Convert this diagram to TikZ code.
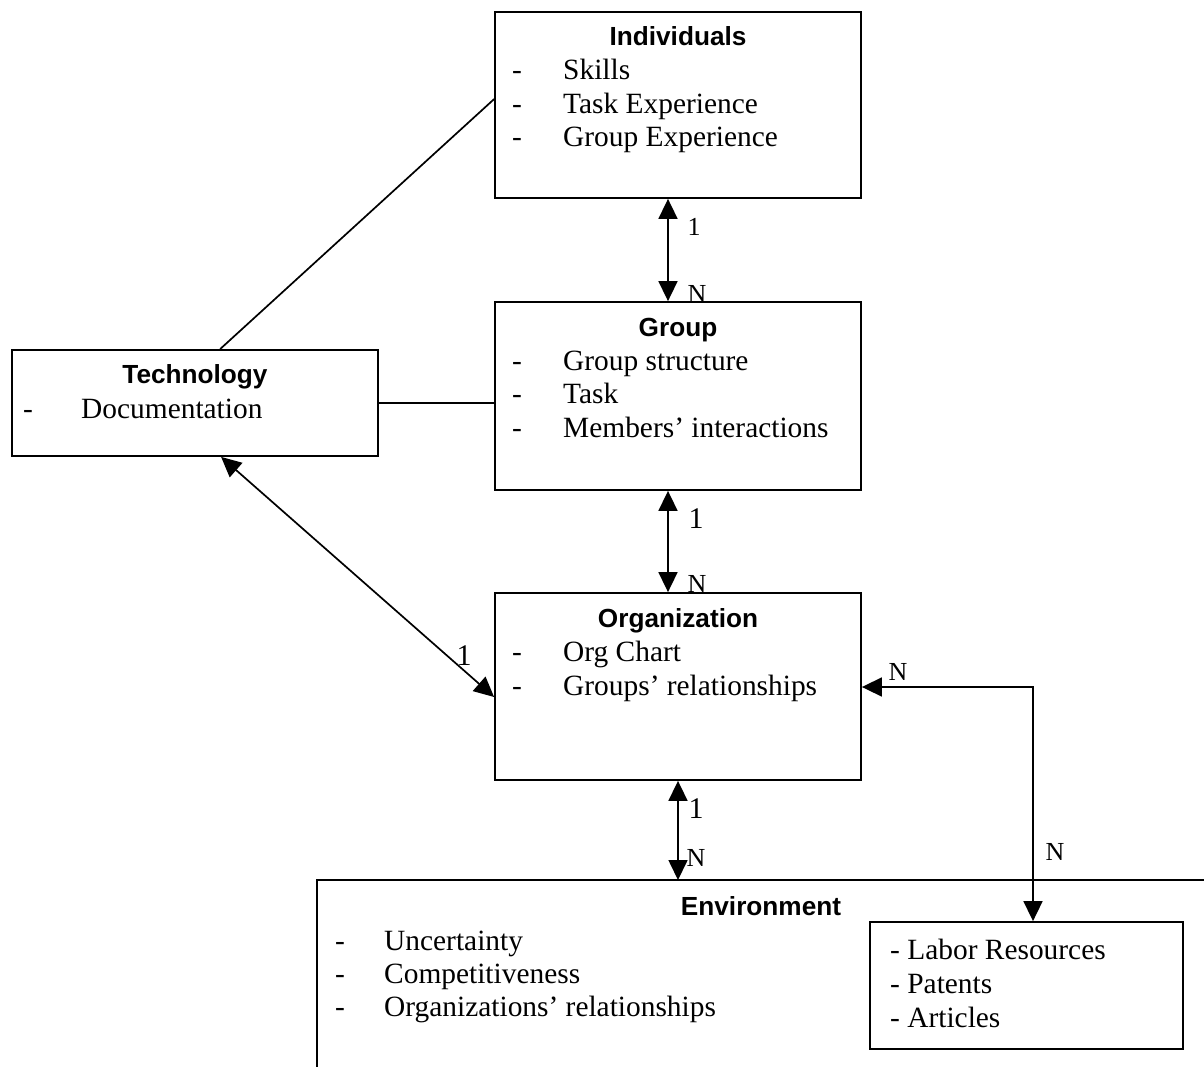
\documentclass[tikz,border=0pt]{standalone}
\usepackage{fontspec}
\setmainfont{Liberation Serif}
\newfontfamily\hdfont{Liberation Sans}
\usetikzlibrary{arrows.meta,calc}
\begin{document}
\begin{tikzpicture}[x=1pt,y=-1pt,
 box/.style={draw,line width=1.8pt,inner sep=0pt,minimum width=366pt},
 ttl/.style={anchor=base,inner sep=0pt,font=\hdfont\bfseries\fontsize{26.2}{30}\selectfont},
 itm/.style={anchor=base west,inner sep=0pt,font=\fontsize{29.4}{33}\selectfont},
 lbl/.style={inner sep=0pt,font=\fontsize{26}{28}\selectfont},
 biglbl/.style={inner sep=0pt,font=\fontsize{30}{32}\selectfont},
 con/.style={line width=1.7pt},
 arr/.style={con,{Triangle[length=20pt,width=19pt]}-{Triangle[length=20pt,width=19pt]}},
]
\useasboundingbox (0,0) rectangle (1204,1067);

% boxes
\node[box,minimum height=186pt] (ind) at (678,105) {};
\node[box,minimum height=188pt] (grp) at (678,396) {};
\node[box,minimum height=187pt] (org) at (678,686.5) {};
\node[box,minimum height=106pt] (tech) at (195,403) {};
\node[box,minimum width=313pt,minimum height=127pt] (lab) at (1026.5,985.5) {};
\coordinate (envtl) at (317,880);
\coordinate (envbl) at (317,1067);
\coordinate (envtr) at (1204,880);
\draw[line width=1.8pt] (envbl) -- (envtl) -- (envtr);

% Individuals
\node[ttl] (indt) at (678,46) {Individuals};
\node[itm] (ind1d) at (512,80) {-};
\node[itm] (ind1) at (563,80) {Skills};
\node[itm] (ind2d) at (512,113.5) {-};
\node[itm] (ind2) at (563,113.5) {Task Experience};
\node[itm] (ind3d) at (512,147) {-};
\node[itm] (ind3) at (563,147) {Group Experience};

% Group
\node[ttl] (grpt) at (678,336) {Group};
\node[itm] (grp1d) at (512,370) {-};
\node[itm] (grp1) at (563,370) {Group structure};
\node[itm] (grp2d) at (512,403.5) {-};
\node[itm] (grp2) at (563,403.5) {Task};
\node[itm] (grp3d) at (512,437) {-};
\node[itm] (grp3) at (563,437) {Members’ interactions};

% Technology
\node[ttl] (techt) at (195,383) {Technology};
\node[itm] (tech1d) at (23,418) {-};
\node[itm] (tech1) at (81,418) {Documentation};

% Organization
\node[ttl] (orgt) at (678,627) {Organization};
\node[itm] (org1d) at (512,661) {-};
\node[itm] (org1) at (563,661) {Org Chart};
\node[itm] (org2d) at (512,695) {-};
\node[itm] (org2) at (563,695) {Groups’ relationships};

% Environment
\node[ttl] (envt) at (761,915) {Environment};
\node[itm] (env1d) at (335,950) {-};
\node[itm] (env1) at (384,950) {Uncertainty};
\node[itm] (env2d) at (335,983) {-};
\node[itm] (env2) at (384,983) {Competitiveness};
\node[itm] (env3d) at (335,1016) {-};
\node[itm] (env3) at (384,1016) {Organizations’ relationships};

% Labor resources
\node[itm] (lab1) at (890,959) {- Labor Resources};
\node[itm] (lab2) at (890,993) {- Patents};
\node[itm] (lab3) at (890,1027) {- Articles};

% connectors
\draw[arr] ($(ind.south)+(-10,0)$) -- ($(grp.north)+(-10,0)$);
\draw[arr] ($(grp.south)+(-10,0)$) -- ($(org.north)+(-10,0)$);
\draw[arr] (org.south) -- (org.south |- envtl);
\draw[con] ($(tech.north west)+(209,0)$) -- ($(ind.north west)+(0,88)$);
\draw[con] (tech.east) -- (tech.east -| grp.west);
\draw[arr] ($(tech.south west)+(210,0)$) -- ($(org.west)+(0,10.5)$);
\coordinate (cr) at (1033,687);
\draw[arr] (org.east |- cr) -- (cr) -- (cr |- lab.north);

% labels
\node[lbl] (l1) at (694,227) {1};
\node[lbl] (n1) at (697,294) {N};
\node[biglbl] (l2) at (696,519) {1};
\node[lbl] (n2) at (697,584) {N};
\node[biglbl] (l3) at (696,809) {1};
\node[lbl] (n3) at (696,858) {N};
\node[biglbl] (l4) at (464,656) {1};
\node[lbl] (n4) at (898,672) {N};
\node[lbl] (n5) at (1055,852) {N};
\end{tikzpicture}
\end{document}
